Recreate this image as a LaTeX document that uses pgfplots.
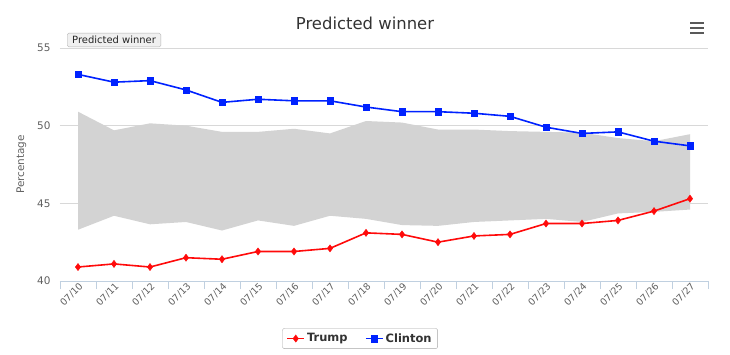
\documentclass[border=0pt]{standalone}
\usepackage{pgfplots}
\pgfplotsset{compat=1.18}
\usepackage{fontspec}
\setmainfont{DejaVu Sans}
\definecolor{gridc}{HTML}{D8D8D8}
\definecolor{axisc}{HTML}{C0D0E0}
\definecolor{labc}{HTML}{606060}
\definecolor{titc}{HTML}{333333}
\definecolor{rangec}{HTML}{D3D3D3}
\definecolor{tred}{HTML}{FF0A0A}
\definecolor{cblue}{HTML}{0022FF}
\begin{document}
\begin{tikzpicture}
\path[use as bounding box] (0bp,0bp) rectangle (730bp,355bp);
\begin{axis}[
  at={(60bp,74bp)}, anchor=south west,
  scale only axis, width=648bp, height=233bp,
  xmin=-0.5, xmax=17.5, ymin=40, ymax=55,
  axis x line*=bottom, axis y line*=left,
  x axis line style={draw=axisc, line width=0.8bp},
  y axis line style={draw=none},
  xtick={0,...,17},
  xticklabels={07/10,07/11,07/12,07/13,07/14,07/15,07/16,07/17,07/18,07/19,07/20,07/21,07/22,07/23,07/24,07/25,07/26,07/27},
  xticklabel style={rotate=45, anchor=east, xshift=3bp, yshift=-5bp, font=\fontsize{9.5}{11}\selectfont, text=labc},
  minor xtick={-0.5,0.5,1.5,2.5,3.5,4.5,5.5,6.5,7.5,8.5,9.5,10.5,11.5,12.5,13.5,14.5,15.5,16.5,17.5},
  tick style={draw=axisc, line width=0.9bp},
  tick align=outside, major tick length=0pt, minor tick length=8bp,
  ytick={40,45,50,55},
  ymajorgrids, major grid style={draw=gridc, line width=0.8bp},
  yticklabel style={font=\fontsize{10.5}{12}\selectfont, text=labc, xshift=-6bp},
  /pgf/number format/assume math mode=true,
  ylabel={Percentage},
  ylabel style={font=\fontsize{10.5}{12}\selectfont, text=labc, yshift=4bp},
  legend columns=2,
  legend style={at={(0.463,-0.247)}, anchor=center, draw=gray!70, rounded corners=2bp,
    font=\bfseries\fontsize{11.5}{14}\selectfont, text=titc, inner xsep=4bp, inner ysep=3bp},
]
\addplot[fill=rangec, draw=none, forget plot] coordinates {
(0,50.9) (1,49.7) (2,50.15) (3,50.0) (4,49.6) (5,49.6) (6,49.8) (7,49.5) (8,50.3)
(9,50.2) (10,49.75) (11,49.75) (12,49.65) (13,49.6) (14,49.55) (15,49.2) (16,49.0) (17,49.45)
(17,44.6) (16,44.45) (15,44.35) (14,43.8) (13,44.0) (12,43.9) (11,43.8) (10,43.55) (9,43.6)
(8,44.0) (7,44.2) (6,43.55) (5,43.9) (4,43.25) (3,43.8) (2,43.65) (1,44.2) (0,43.3)} -- cycle;
\addplot[tred, line width=1.6bp, mark=diamond*, mark size=3.6bp, mark options={fill=tred, draw=tred, line width=0.4bp}] coordinates {
(0,40.9) (1,41.1) (2,40.9) (3,41.5) (4,41.4) (5,41.9) (6,41.9) (7,42.1) (8,43.1)
(9,43.0) (10,42.5) (11,42.9) (12,43.0) (13,43.7) (14,43.7) (15,43.9) (16,44.5) (17,45.3)};
\addlegendentry{\makebox[56bp][l]{Trump}}
\addplot[cblue, line width=1.6bp, mark=square*, mark size=3.2bp, mark options={fill=cblue, draw=cblue, line width=0.4bp}] coordinates {
(0,53.3) (1,52.8) (2,52.9) (3,52.3) (4,51.5) (5,51.7) (6,51.6) (7,51.6) (8,51.2)
(9,50.9) (10,50.9) (11,50.8) (12,50.6) (13,49.9) (14,49.5) (15,49.6) (16,49.0) (17,48.7)};
\addlegendentry{Clinton}
\end{axis}
\node[text=titc, font=\fontsize{16.5}{19}\selectfont] at (365bp,332bp) {Predicted winner};
\foreach \yy in {332,327,322} \draw[black!65, line width=2.4bp] (690bp,\yy bp) -- (704bp,\yy bp);
\node[draw=gray!60, fill=gray!12, rounded corners=1.5bp, inner xsep=5bp, inner ysep=3bp, text=black!85, font=\fontsize{10}{12}\selectfont, anchor=north west] at (67bp,322bp) {Predicted winner};
\end{tikzpicture}
\end{document}
